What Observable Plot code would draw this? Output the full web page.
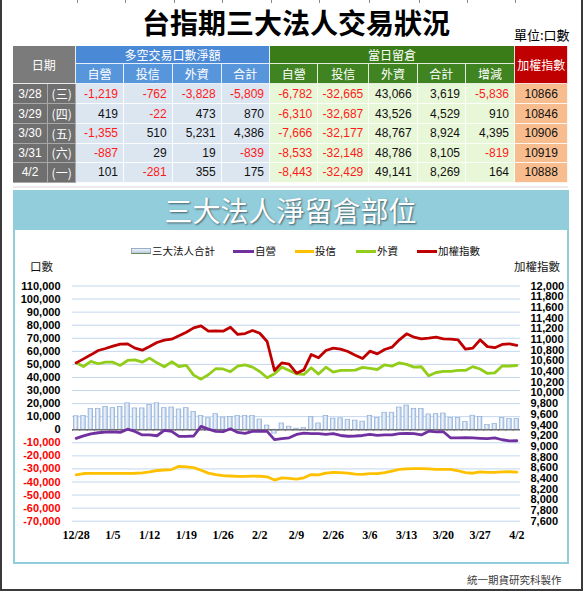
<!DOCTYPE html>
<html><head><meta charset="utf-8">
<script src="https://cdn.jsdelivr.net/npm/d3@7"></script>
<script src="https://cdn.jsdelivr.net/npm/@observablehq/plot@0.6"></script>
<style>
html,body{margin:0;padding:0;background:#fff;}
#page{position:relative;width:585px;height:592px;overflow:hidden;background:#fff;font-family:"Noto Sans CJK TC","Liberation Sans",Arial,sans-serif;}
.abs{position:absolute;}
.cell{position:absolute;box-sizing:border-box;border-right:1px solid rgba(255,255,255,0.85);border-bottom:1px solid rgba(255,255,255,0.85);display:flex;align-items:center;white-space:nowrap;overflow:hidden;}
.hd{color:#fff;font-size:12px;justify-content:center;font-family:"Noto Sans CJK TC",sans-serif;}
.num{font-family:"Liberation Sans",Arial,sans-serif;font-size:12px;justify-content:flex-end;padding-right:5px;}
.grey{background:#6f6f6f;color:#fff;justify-content:center;border-color:#a8a8a8;}
.leg{position:absolute;top:245px;font-size:10.5px;line-height:12px;color:#111;white-space:nowrap;}
.legline{position:absolute;top:250px;height:3px;}
</style></head>
<body><div id="page"></div>
<script>
// ---------- table data ----------
const tableDates = ["3/28","3/29","3/30","3/31","4/2"];
const tableWeekdays = ["(三)","(四)","(五)","(六)","(一)"];
const netDealer  = [-1219, 419, -1355, -887, 101];
const netTrust   = [-762, -22, 510, 29, -281];
const netForeign = [-3828, 473, 5231, 19, 355];
const netTotal   = [-5809, 870, 4386, -839, 175];
const oiDealer   = [-6782, -6310, -7666, -8533, -8443];
const oiTrust    = [-32665, -32687, -32177, -32148, -32429];
const oiForeign  = [43066, 43526, 48767, 48786, 49141];
const oiTotal    = [3619, 4529, 8924, 8105, 8269];
const oiChange   = [-5836, 910, 4395, -819, 164];
const indexClose = [10866, 10846, 10906, 10919, 10888];

// ---------- chart data (61 trading days, 12/28 .. 4/2) ----------
const xTickLabels = ["12/28","1/5","1/12","1/19","1/26","2/2","2/9","2/26","3/6","3/13","3/20","3/27","4/2"];
const chartTotal = [10300,10500,15800,15800,17500,16500,17500,20200,16300,16300,
  18900,20200,16500,17000,15500,16500,13700,10400,8800,11900,
  9300,9800,10400,10400,10400,7800,3200,-3000,4800,2300,
  800,1300,9600,4800,10600,8500,8700,7600,7000,6200,
  10600,8900,13000,13000,17000,18500,16000,16000,11700,11900,
  12400,9000,9000,5800,10700,9700,3619,4529,8924,8105,8269];
const chartDealer = [-6600,-4700,-3100,-2300,-1800,-1600,-2000,400,-1300,-4000,
  -3900,-4600,-500,-1300,-5100,-5100,-4800,2600,500,-1300,
  -1500,700,-2100,-2800,-1300,-1100,-1300,-7600,-6800,-6200,
  -3600,-2600,-3000,-3000,-3600,-3000,-4400,-5000,-4800,-4400,
  -3600,-4300,-3900,-3900,-3000,-2900,-3000,-4000,-1100,-1600,
  -1500,-6300,-6200,-6100,-6300,-6600,-6782,-6310,-7666,-8533,-8443];
const chartTrust = [-34500,-33500,-33400,-33400,-33400,-33400,-33400,-33400,-33300,-33000,
  -32200,-31200,-30800,-30500,-28000,-28400,-29000,-31000,-33200,-34300,
  -35100,-35400,-35700,-35700,-35500,-35600,-36000,-38500,-36800,-37200,
  -37800,-36800,-34300,-34600,-33200,-32700,-32800,-33200,-34000,-34200,
  -33600,-33600,-32800,-31600,-30400,-29900,-29800,-29800,-29900,-30300,
  -30300,-30400,-31400,-32800,-33300,-32200,-32665,-32687,-32177,-32148,-32429];
const chartForeign = [51200,48400,52300,50500,51700,51700,49200,53000,53500,51700,
  54800,51200,48200,52000,48400,49200,41800,38700,42100,46700,
  46500,44400,48700,49700,47900,44600,39800,42800,47900,45400,
  42800,42300,47400,42600,47900,44100,45400,45400,45600,47700,
  47000,46100,49700,48700,51200,50000,47900,48200,41300,43800,
  44600,44600,45400,45400,48300,46500,43066,43526,48767,48786,49141];
const chartIndex = [10562,10637,10712,10793,10831,10874,10912,10918,10837,10799,
  10868,10943,10986,11005,11068,11136,11217,11255,11155,11161,
  11155,11230,11093,11111,11167,11117,10962,10419,10562,10537,
  10369,10431,10718,10656,10793,10837,10818,10774,10706,10644,
  10781,10731,10812,10856,10993,11105,11043,11012,11024,11043,
  11012,11005,10993,10818,10837,10993,10866,10846,10906,10919,10888];

const leftTicks = d3.range(-70000, 110001, 10000);
const rightTicks = d3.range(7600, 12001, 200);

// ---------- helpers ----------
const page = document.getElementById("page");
function el(tag, cls, style, text){const e=document.createElement(tag); if(cls) e.className=cls; if(style) e.style.cssText=style; if(text!=null) e.textContent=text; page.appendChild(e); return e;}
const fmtC = v => (v < 0 ? "-" : "") + d3.format(",")(Math.abs(v));

// outer frame
el("div","abs","left:0;top:-4px;width:583px;height:595px;box-sizing:border-box;border:2px solid #3a3a3a;");
[76.5,125,173.5,222,270.5,319,369,418.5,466.5,514.5].forEach(x=>el("div","abs",`left:${x}px;top:0;width:1px;height:3px;background:#8a8a8a;`));

// title
el("div","abs","left:0;width:592px;top:5px;text-align:center;font-size:28px;font-weight:700;line-height:34px;color:#000;","台指期三大法人交易狀況");
el("div","abs","left:514px;top:27px;font-size:13px;line-height:16px;color:#000;","單位:口數");

// table geometry
const colX = [12.7,48.3,76,124,172.7,221.7,270,318.3,369.3,417.7,466,515,568.3];
const rowY = [46,64,84,104,124,143.5,163.3,182.7];
function cell(c0,c1,r0,r1,cls,bg,text,color){
  return el("div","cell "+cls,`left:${colX[c0]}px;top:${rowY[r0]}px;width:${colX[c1]-colX[c0]}px;height:${rowY[r1]-rowY[r0]}px;background:${bg};${color?`color:${color};`:""}`,text);
}
cell(0,2,0,2,"hd","#7b7b7b","日期");
cell(2,6,0,1,"hd","#4a89d5","多空交易口數淨額");
cell(6,11,0,1,"hd","#3a7d18","當日留倉");
cell(11,12,0,2,"hd","#c00000","加權指數");
["自營","投信","外資","合計"].forEach((t,k)=>cell(2+k,3+k,1,2,"hd","#5896dc",t));
["自營","投信","外資","合計","增減"].forEach((t,k)=>cell(6+k,7+k,1,2,"hd","#3f8420",t));
const netCols = [netDealer,netTrust,netForeign,netTotal];
const oiCols = [oiDealer,oiTrust,oiForeign,oiTotal,oiChange];
tableDates.forEach((dt,r)=>{
  cell(0,1,2+r,3+r,"grey num","#6f6f6f",dt).style.cssText += "justify-content:center;padding:0;color:#fff;border-color:#a8a8a8;";
  cell(1,2,2+r,3+r,"grey hd","#6f6f6f",tableWeekdays[r]).style.cssText += "border-color:#a8a8a8;";
  netCols.forEach((arr,k)=>cell(2+k,3+k,2+r,3+r,"num","#dce6f1",fmtC(arr[r]),arr[r]<0?"#ff1a1a":"#111"));
  oiCols.forEach((arr,k)=>cell(6+k,7+k,2+r,3+r,"num","#e8f7d7",fmtC(arr[r]),arr[r]<0?"#ff1a1a":"#111"));
  cell(11,12,2+r,3+r,"num","#f8bd8e",String(indexClose[r]),"#111").style.cssText += "justify-content:center;padding:0;";
});
el("div","abs","left:12.7px;top:185.5px;width:555.6px;height:2px;background:#ececec;");

// chart panel
el("div","abs","left:12.5px;top:190px;width:556px;height:374px;box-sizing:border-box;border:2px solid #93cddc;background:#fff;");
el("div","abs","left:12.5px;top:190px;width:556px;height:40px;background:#92cddc;color:#fff;text-align:center;font-size:28px;line-height:40px;text-shadow:1px 1px 2px rgba(0,0,0,0.55);","三大法人淨留倉部位");

// legend
el("div","abs","left:131px;top:248px;width:20px;height:6px;box-sizing:border-box;background:linear-gradient(#eef3f9,#b9cbe0);border:1px solid #98aec8;border-bottom:1px solid #6d8a5a;");
el("div","leg","left:152px;","三大法人合計");
el("div","legline","left:233px;width:21px;background:#7030a0;"); el("div","leg","left:255px;","自營");
el("div","legline","left:295px;width:19px;background:#ffc000;"); el("div","leg","left:315px;","投信");
el("div","legline","left:356px;width:20px;background:#92cd1a;"); el("div","leg","left:377px;","外資");
el("div","legline","left:417px;width:20px;background:#c00000;"); el("div","leg","left:438px;","加權指數");
el("div","abs","left:30px;top:259px;font-size:11.5px;line-height:14px;color:#111;","口數");
el("div","abs","left:514px;top:259px;font-size:11.5px;line-height:14px;color:#111;","加權指數");
el("div","abs","left:467px;top:573px;font-size:10.5px;line-height:13px;color:#3c3c3c;","統一期貨研究科製作");

// ---------- plot ----------
const idxToLeft = v => -70000 + (v - 7600) / 4400 * 180000;
const leftToIdx = u => 7600 + (u + 70000) / 180000 * 4400;
const rows = chartTotal.map((t,i)=>({i, total:t, dealer:chartDealer[i], trust:chartTrust[i], foreign:chartForeign[i], idx:idxToLeft(chartIndex[i])}));
const step = 448/61;
const axisFont = {fontSize: 11, fontWeight: "bold", fontFamily: "Liberation Sans, Arial, sans-serif"};
const lineOpt = (y, stroke) => ({x: "i", y, stroke, strokeWidth: 2.8, strokeLinejoin: "round", strokeLinecap: "round"});

const svg = Plot.plot({
  width: 552, height: 310,
  marginTop: 45.5, marginBottom: 29.3, marginLeft: 58, marginRight: 46,
  style: {background: "transparent", overflow: "visible"},
  x: {type: "band", domain: d3.range(61), paddingInner: 0.38, paddingOuter: 0.19, round: false, axis: null},
  y: {domain: [-70000, 110000], axis: null},
  marks: [
    Plot.gridY(leftTicks, {stroke: "#c3d6ee", strokeOpacity: 1, strokeWidth: 1}),
    Plot.barY(rows, {x: "i", y: "total", fill: "url(#barGrad)", stroke: "#8faed8", strokeWidth: 0.7}),
    Plot.ruleY([0], {stroke: "#707070", strokeWidth: 1.6}),
    Plot.ruleX(d3.range(61), {x: d => d, y1: 0, y2: -1300, stroke: "#707070", strokeWidth: 1, dx: -step/2}),
    Plot.line(rows, lineOpt("trust", "#ffc000")),
    Plot.line(rows, lineOpt("dealer", "#7030a0")),
    Plot.line(rows, lineOpt("foreign", "#92cd1a")),
    Plot.line(rows, lineOpt("idx", "#c00000")),
    Plot.axisY(leftTicks.filter(d => d >= 0), {anchor: "left", tickSize: 0, tickPadding: 12, tickFormat: fmtC, fill: "#000", label: null, ...axisFont}),
    Plot.axisY(leftTicks.filter(d => d < 0), {anchor: "left", tickSize: 0, tickPadding: 12, tickFormat: fmtC, fill: "#ff0000", label: null, ...axisFont}),
    Plot.axisY(rightTicks.map(idxToLeft), {anchor: "right", tickSize: 0, tickPadding: 10, tickFormat: u => d3.format(",")(Math.round(leftToIdx(u))), fill: "#000", label: null, ...axisFont}),
    Plot.axisX(d3.range(0, 61, 5), {anchor: "bottom", tickSize: 0, tickPadding: 9, tickFormat: i => xTickLabels[i/5], fill: "#000", label: null, fontSize: 12, fontWeight: "bold", fontFamily: "Liberation Serif, Times New Roman, serif"})
  ]
});
const NS = "http://www.w3.org/2000/svg";
const defs = document.createElementNS(NS, "defs");
defs.innerHTML = '<linearGradient id="barGrad" x1="0" x2="1" y1="0" y2="0"><stop offset="0" stop-color="#b3cae8"/><stop offset="0.45" stop-color="#f2f6fb"/><stop offset="1" stop-color="#a6c0e3"/></linearGradient>';
svg.insertBefore(defs, svg.firstChild);
const wrap = el("div","abs","left:14px;top:240px;width:552px;height:310px;");
wrap.appendChild(svg);
</script></body></html>
